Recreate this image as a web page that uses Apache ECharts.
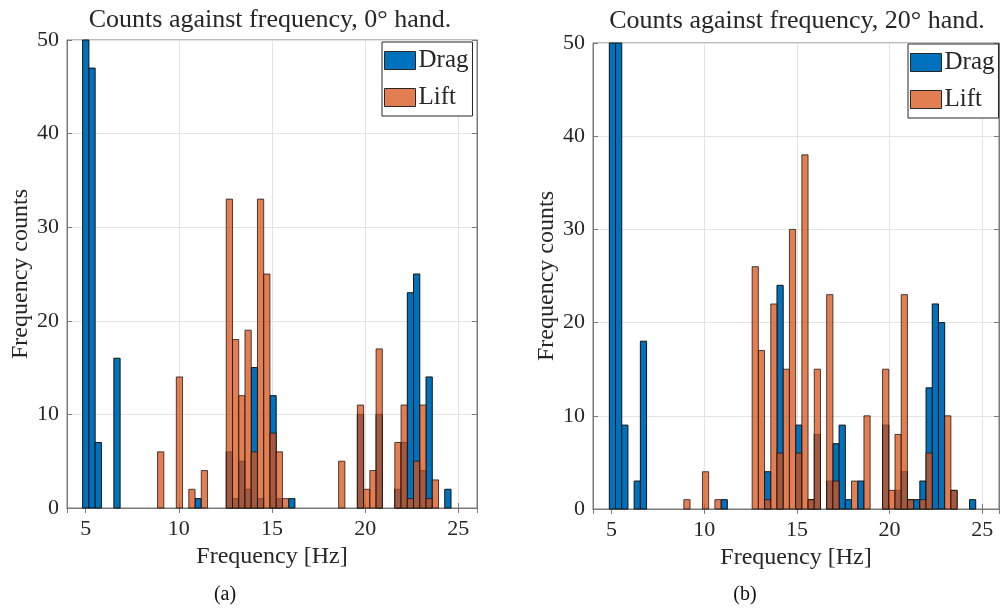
<!DOCTYPE html>
<html>
<head>
<meta charset="utf-8">
<script src="https://cdn.jsdelivr.net/npm/echarts@6/dist/echarts.min.js"></script>
<style>
  html, body { margin: 0; background: #fff; }
  #chart { width: 1000px; height: 610px; }
</style>
</head>
<body>
<div id="chart"></div>
<script>
// bin k covers [binStart + k*binWidth, binStart + (k+1)*binWidth] Hz
const binWidth = 0.335
const binStartA = 4.84
const binStartB = 4.88

// (a) 0 deg hand
const dragCountsA = [
  50, 47, 7, 0, 0, 16, 0, 0, 0, 0,
  0, 0, 0, 0, 0, 0, 0, 0, 1, 0,
  0, 0, 0, 6, 1, 5, 2, 15, 1, 0,
  12, 1, 0, 1, 0, 0, 0, 0, 0, 0,
  0, 0, 0, 0, 10, 0, 0, 10, 0, 0,
  2, 7, 23, 25, 4, 14, 0, 0, 2
]
const liftCountsA = [
  0, 0, 0, 0, 0, 0, 0, 0, 0, 0,
  0, 0, 6, 0, 0, 14, 0, 2, 0, 4,
  0, 0, 0, 33, 18, 12, 19, 6, 33, 25,
  8, 6, 1, 0, 0, 0, 0, 0, 0, 0,
  0, 5, 0, 0, 11, 2, 4, 17, 0, 0,
  7, 11, 1, 5, 11, 1, 3, 0, 0
]

// (b) 20 deg hand
const dragCountsB = [
  50, 50, 9, 0, 3, 18, 0, 0, 0, 0,
  0, 0, 0, 0, 0, 0, 0, 0, 1, 0,
  0, 0, 0, 0, 0, 4, 0, 24, 0, 0,
  9, 0, 1, 8, 0, 3, 7, 9, 1, 0,
  3, 0, 0, 0, 9, 0, 2, 4, 1, 1,
  3, 13, 22, 20, 0, 2, 0, 0, 1
]
const liftCountsB = [
  0, 0, 0, 0, 0, 0, 0, 0, 0, 0,
  0, 0, 1, 0, 0, 4, 0, 1, 0, 0,
  0, 0, 0, 26, 17, 1, 22, 6, 15, 30,
  6, 38, 1, 15, 0, 23, 3, 0, 0, 3,
  0, 10, 0, 0, 15, 2, 8, 23, 1, 0,
  1, 6, 0, 0, 10, 2, 0, 0, 0
]

const titles = ['Counts against frequency, 0\u00b0 hand.', 'Counts against frequency, 20\u00b0 hand.']
const captions = ['(a)', '(b)']

const serif = '"Liberation Serif", "DejaVu Serif", serif'
const ink = '#262626'
const blue = '#0072BD'
const orange = '#D95319'

function toBins(counts, start) {
  return counts.map((n, k) => [start + k * binWidth, start + (k + 1) * binWidth, n])
}

function histItem(fill, opacity) {
  return function (params, api) {
    const n = api.value(2)
    if (!n) return
    const p0 = api.coord([api.value(0), n])
    const p1 = api.coord([api.value(1), 0])
    const rect = echarts.graphic.clipRectByRect(
      { x: p0[0], y: p0[1], width: p1[0] - p0[0], height: p1[1] - p0[1] },
      params.coordSys
    )
    if (!rect) return
    return {
      type: 'rect',
      shape: rect,
      style: { fill: fill, stroke: '#111', lineWidth: 1, opacity: opacity }
    }
  }
}

const grids = [
  { left: 67, top: 40, width: 410, height: 468, xMax: 26 },
  { left: 593, top: 43, width: 406, height: 466, xMax: 25.9 }
]

const xAxes = []
const yAxes = []
grids.forEach((g, i) => {
  xAxes.push({
    gridIndex: i, type: 'value', min: 4, max: g.xMax,
    name: 'Frequency [Hz]', nameLocation: 'middle', nameGap: 36,
    nameTextStyle: { fontFamily: serif, fontSize: 24, color: ink },
    axisLine: { lineStyle: { color: '#7a7a7a' } },
    axisTick: { inside: true, length: 5, lineStyle: { color: '#7a7a7a' } },
    axisLabel: { showMinLabel: false, showMaxLabel: false, margin: 10, fontFamily: serif, fontSize: 22, color: ink },
    splitLine: { show: true, lineStyle: { color: '#e4e4e4' } }
  })
  xAxes.push({
    gridIndex: i, type: 'value', min: 4, max: g.xMax, position: 'top',
    axisLine: { lineStyle: { color: '#7a7a7a' } },
    axisTick: { inside: true, length: 5, lineStyle: { color: '#7a7a7a' } },
    axisLabel: { show: false }, splitLine: { show: false }
  })
  yAxes.push({
    gridIndex: i, type: 'value', min: 0, max: 50, interval: 10,
    name: 'Frequency counts', nameLocation: 'middle', nameGap: 33,
    nameTextStyle: { fontFamily: serif, fontSize: 24, color: ink },
    axisLine: { show: true, lineStyle: { color: '#7a7a7a' } },
    axisTick: { show: true, inside: true, length: 5, lineStyle: { color: '#7a7a7a' } },
    axisLabel: { margin: 8, fontFamily: serif, fontSize: 22, color: ink },
    splitLine: { show: true, lineStyle: { color: '#e4e4e4' } }
  })
  yAxes.push({
    gridIndex: i, type: 'value', min: 0, max: 50, interval: 10, position: 'right',
    axisLine: { show: true, lineStyle: { color: '#7a7a7a' } },
    axisTick: { show: true, inside: true, length: 5, lineStyle: { color: '#7a7a7a' } },
    axisLabel: { show: false }, splitLine: { show: false }
  })
})

const panels = [
  { drag: dragCountsA, lift: liftCountsA, start: binStartA },
  { drag: dragCountsB, lift: liftCountsB, start: binStartB }
]
const series = []
panels.forEach((p, i) => {
  series.push({
    name: 'Drag', type: 'custom', xAxisIndex: 2 * i, yAxisIndex: 2 * i,
    renderItem: histItem(blue, 1),
    encode: { x: [0, 1], y: 2 },
    itemStyle: { color: blue },
    data: toBins(p.drag, p.start)
  })
  series.push({
    name: 'Lift', type: 'custom', xAxisIndex: 2 * i, yAxisIndex: 2 * i,
    renderItem: histItem(orange, 0.75),
    encode: { x: [0, 1], y: 2 },
    itemStyle: { color: orange },
    data: toBins(p.lift, p.start)
  })
})

const legendBase = {
  orient: 'vertical', icon: 'rect', itemWidth: 31, itemHeight: 18, itemGap: 12,
  padding: [6, 4, 6, 2], borderColor: ink, borderWidth: 1, backgroundColor: '#fff',
  selectedMode: false,
  textStyle: { fontFamily: serif, fontSize: 25, color: ink, lineHeight: 18, padding: [0, 0, 0, -2] },
  data: [
    { name: 'Drag', itemStyle: { color: blue, borderColor: ink, borderWidth: 1 } },
    { name: 'Lift', itemStyle: { color: '#E27E52', borderColor: ink, borderWidth: 1 } }
  ]
}

const option = {
  animation: false,
  backgroundColor: '#fff',
  grid: grids.map(g => ({
    left: g.left, top: g.top, width: g.width, height: g.height,
    show: true, borderColor: '#7a7a7a', borderWidth: 1
  })),
  xAxis: xAxes,
  yAxis: yAxes,
  legend: [
    Object.assign({}, legendBase, { left: 382, top: 42 }),
    Object.assign({}, legendBase, { left: 908, top: 44 })
  ],
  graphic: [
    { type: 'text', x: 270, y: 20, style: { text: titles[0], font: '26px ' + serif, fill: ink, align: 'center', verticalAlign: 'middle' } },
    { type: 'text', x: 797, y: 21, style: { text: titles[1], font: '26px ' + serif, fill: ink, align: 'center', verticalAlign: 'middle' } },
    { type: 'text', x: 225, y: 595, style: { text: captions[0], font: '20px ' + serif, fill: '#111', align: 'center', verticalAlign: 'middle' } },
    { type: 'text', x: 745, y: 595, style: { text: captions[1], font: '20px ' + serif, fill: '#111', align: 'center', verticalAlign: 'middle' } }
  ],
  series: series
}

const myChart = echarts.init(document.getElementById('chart'))
myChart.setOption(option)
</script>
</body>
</html>
